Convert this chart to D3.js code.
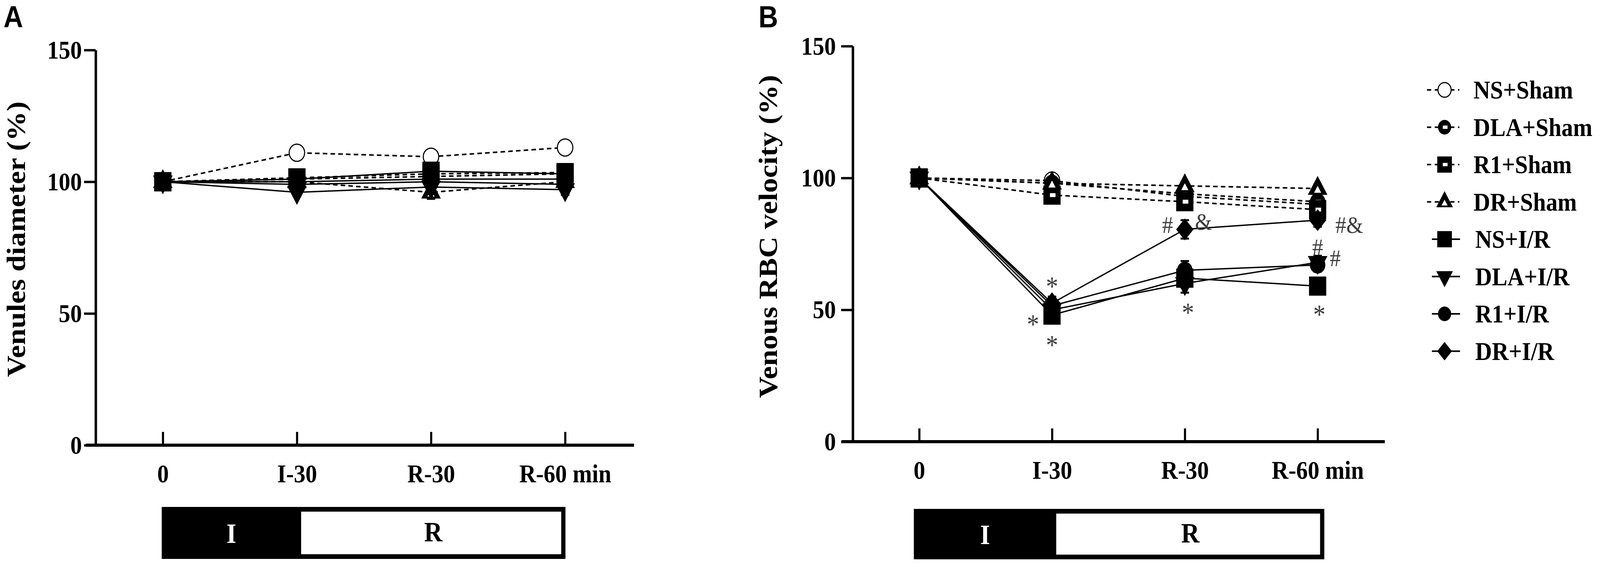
<!DOCTYPE html>
<html>
<head>
<meta charset="utf-8">
<script src="https://cdn.jsdelivr.net/npm/d3@7"></script>
<style>
  html, body { margin: 0; padding: 0; background: #fff; overflow: hidden; }
  #chart { width: 100vw; height: 100vh; }
  svg { display: block; }
</style>
</head>
<body>
<div id="chart"></div>
<script>
// ---- data ----
const timePoints = ["0", "I-30", "R-30", "R-60 min"];
const groupNames = ["NS+Sham", "DLA+Sham", "R1+Sham", "DR+Sham", "NS+I/R", "DLA+I/R", "R1+I/R", "DR+I/R"];
const yTickValues = [0, 50, 100, 150];

// A: venules diameter (%)
const diamNSSham  = [100, 111, 109.5, 113];
const diamDLASham = [100, 101, 102, 103];
const diamR1Sham  = [100, 101.5, 103, 103.5];
const diamDRSham  = [100, 100, 96, 100];
const diamNSIR    = [100, 101, 104, 103];
const diamDLAIR   = [100, 96, 98, 97];
const diamR1IR    = [100, 99, 100, 99];
const diamDRIR    = [100, 100, 101, 101];
const diamErr     = [0, 1.5, 2.5, 2];

// B: venous RBC velocity (%)
const velNSSham  = [100, 99, 93, 90];
const velDLASham = [100, 98, 94, 91];
const velR1Sham  = [100, 93.5, 91, 88];
const velDRSham  = [100, 98, 97, 96];
const velNSIR    = [100, 48, 62, 59];
const velDLAIR   = [100, 50, 60, 68];
const velR1IR    = [100, 51.5, 65, 67];
const velDRIR    = [100, 52.5, 80.5, 84];
const velErrSham = [0, 1, 1.5, 1.5];
const velErrIR   = [0, 2.5, 3.5, 2.5];

// significance marks in B (text, time point, value where the mark sits)
const velMarkText  = ["*", "*", "*", "*", "*", "#", "&", "#&", "#", "#"];
const velMarkTime  = ["I-30", "I-30", "I-30", "R-30", "R-60 min", "R-30", "R-30", "R-60 min", "R-60 min", "R-60 min"];
const velMarkValue = [60.3, 45.9, 38.1, 50.4, 49.7, 82.3, 83.4, 82.3, 73.8, 69.7];

// ---- styles / layout ----
const serif = "'Liberation Serif','Times New Roman',serif";
const sans = "'Liberation Sans',Arial,sans-serif";
const velMarkDx = [0, -54, 0, 9, 5, -49, 53, 90, 0, 50];

// wide diamond, d3.symbol custom type
const symbolWideDiamond = {
    draw(ctx, size) {
        const r = Math.sqrt(size / 2);
        ctx.moveTo(0, -r);
        ctx.lineTo(r * 0.88, 0);
        ctx.lineTo(0, r);
        ctx.lineTo(-r * 0.88, 0);
        ctx.closePath();
    }
};
const shapes = {
    circle: { type: d3.symbolCircle, size: 1520 },
    square: { type: d3.symbolSquare, size: 2400 },
    triangle: { type: d3.symbolTriangle, size: 1350 },
    diamond: { type: symbolWideDiamond, size: 1570 }
};
// marker style per group
const groupStyle = {
    "NS+Sham":  { shape: "circle", fill: "open", dashed: true },
    "DLA+Sham": { shape: "circle", fill: "bold", dashed: true },
    "R1+Sham":  { shape: "square", fill: "bold", dashed: true },
    "DR+Sham":  { shape: "triangle", fill: "bold", dashed: true },
    "NS+I/R":   { shape: "square", fill: "solid", dashed: false },
    "DLA+I/R":  { shape: "triangle", fill: "solid", dashed: false, flip: true },
    "R1+I/R":   { shape: "circle", fill: "solid", dashed: false },
    "DR+I/R":   { shape: "diamond", fill: "solid", dashed: false }
};

const W = 4550, H = 1443;
// viewBox so the whole figure always fits the window
const svg = d3.select("#chart").append("svg")
    .attr("width", "100%").attr("height", "100%")
    .attr("viewBox", `0 0 ${W} ${H}`)
    .attr("preserveAspectRatio", "none");
svg.append("rect").attr("width", W).attr("height", H).attr("fill", "#fff");

// 画一个标记
function drawMarker(g, style, cx, cy, k = 1) {
    const s = shapes[style.shape];
    const m = g.append("g").attr("transform", `translate(${cx},${cy})${style.flip ? " rotate(180)" : ""}`);
    const path = d3.symbol().type(s.type).size(s.size * k * k)();
    if (style.fill === "open") {
        m.append("path").attr("d", path).attr("fill", "#fff").attr("stroke", "#000").attr("stroke-width", 3);
        return;
    }
    m.append("path").attr("d", path).attr("fill", "#000");
    if (style.fill === "bold") {
        // small white hole in the thick-outlined open markers
        if (style.shape === "triangle") {
            m.append("path").attr("d", d3.symbol().type(d3.symbolTriangle).size(180 * k * k)())
                .attr("transform", `translate(0,${5 * k})`).attr("fill", "#fff");
        } else {
            m.append("rect").attr("x", -6 * k).attr("y", -5 * k).attr("width", 16 * k).attr("height", 10 * k).attr("fill", "#fff");
        }
    }
}

function drawPanel(cfg) {
    const x = d3.scalePoint().domain(timePoints).range([cfg.x0, cfg.x1]);
    const y = d3.scaleLinear().domain([0, 150]).range([cfg.yBottom, cfg.yTop]);
    const g = svg.append("g");

    // panel letter
    g.append("text").attr("x", cfg.letterX).attr("y", 70).text(cfg.letter)
        .attr("font-family", sans).attr("font-weight", "bold").attr("font-size", 77);

    // y axis
    const yAxis = g.append("g").attr("transform", `translate(${cfg.axisX},0)`)
        .call(d3.axisLeft(y).tickValues(yTickValues).tickSize(33).tickSizeOuter(0).tickPadding(cfg.yPad));
    yAxis.select(".domain").attr("stroke-width", 7);
    yAxis.selectAll(".tick line").attr("stroke-width", 6);
    yAxis.selectAll(".tick text").attr("font-family", serif).attr("font-weight", "bold")
        .attr("font-size", 66).attr("fill", "#000");

    // x axis: long base line + inward ticks
    g.append("line").attr("x1", cfg.xAxisStart).attr("x2", cfg.xAxisEnd)
        .attr("y1", y(0)).attr("y2", y(0)).attr("stroke", "#000").attr("stroke-width", 8);
    const xAxis = g.append("g").attr("transform", `translate(0,${y(0)})`)
        .call(d3.axisBottom(x).tickSizeInner(-34).tickSizeOuter(0).tickPadding(48));
    xAxis.select(".domain").remove();
    xAxis.selectAll(".tick line").attr("stroke-width", 6);
    xAxis.selectAll(".tick text").attr("font-family", serif).attr("font-weight", "bold")
        .attr("font-size", 66).attr("fill", "#000");

    // y label
    g.append("text").attr("transform", `translate(${cfg.labelX},${cfg.labelY}) rotate(-90)`)
        .attr("text-anchor", "middle").attr("font-family", serif).attr("font-weight", "bold")
        .attr("font-size", 76).text(cfg.yLabel);

    // lines
    cfg.series.forEach((s) => {
        const st = groupStyle[s.name];
        const line = d3.line().x((d, i) => x(timePoints[i])).y((d) => y(d));
        g.append("path").attr("d", line(s.values)).attr("fill", "none").attr("stroke", "#000")
            .attr("stroke-width", st.dashed ? 4 : 3.5)
            .attr("stroke-dasharray", st.dashed ? "13,9" : null);
    });
    // error bars + markers
    cfg.series.forEach((s) => {
        const st = groupStyle[s.name];
        s.values.forEach((v, i) => {
            const e = s.err[i];
            if (e > 0) {
                const cx = x(timePoints[i]);
                g.append("line").attr("x1", cx).attr("x2", cx).attr("y1", y(v - e)).attr("y2", y(v + e))
                    .attr("stroke", "#000").attr("stroke-width", 4);
                [v - e, v + e].forEach((ev) => {
                    g.append("line").attr("x1", cx - 12).attr("x2", cx + 12).attr("y1", y(ev)).attr("y2", y(ev))
                        .attr("stroke", "#000").attr("stroke-width", 5);
                });
            }
            drawMarker(g, st, x(timePoints[i]), y(v));
        });
    });

    // significance marks
    (cfg.marks || []).forEach((m) => {
        const star = m.text === "*";
        const fs = star ? 70 : 62;
        g.append("text").attr("x", x(m.time) + m.dx).attr("y", y(m.value))
            .attr("dy", star ? "0.47em" : "0.34em").attr("text-anchor", "middle")
            .attr("font-family", serif).attr("font-size", fs).attr("fill", "#3c3c3c").text(m.text);
    });

    // I / R phase bar under the axis
    const bx0 = x(timePoints[0]) - cfg.barPadL;
    const bx1 = x(timePoints[timePoints.length - 1]) + cfg.barPadR;
    const split = x("I-30") + 12;
    const [bt, bb] = cfg.barY;
    g.append("rect").attr("x", bx0 + 6).attr("y", bt + 6).attr("width", bx1 - bx0 - 12).attr("height", bb - bt - 12)
        .attr("fill", "#fff").attr("stroke", "#000").attr("stroke-width", 12);
    g.append("rect").attr("x", bx0).attr("y", bt).attr("width", split - bx0).attr("height", bb - bt).attr("fill", "#000");
    g.append("text").attr("x", (bx0 + split) / 2).attr("y", (bt + bb) / 2).attr("dy", "0.36em")
        .attr("text-anchor", "middle").attr("font-family", serif).attr("font-weight", "bold")
        .attr("font-size", 72).attr("fill", "#fff").text("I");
    g.append("text").attr("x", (split + bx1) / 2).attr("y", (bt + bb) / 2).attr("dy", "0.3em")
        .attr("text-anchor", "middle").attr("font-family", serif).attr("font-weight", "bold")
        .attr("font-size", 72).attr("fill", "#000").text("R");
}

const seriesA = [diamNSSham, diamDLASham, diamR1Sham, diamDRSham, diamNSIR, diamDLAIR, diamR1IR, diamDRIR]
    .map((values, i) => ({ name: groupNames[i], values, err: diamErr }));
const seriesB = [velNSSham, velDLASham, velR1Sham, velDRSham, velNSIR, velDLAIR, velR1IR, velDRIR]
    .map((values, i) => ({ name: groupNames[i], values, err: i < 4 ? velErrSham : velErrIR }));
const marksB = velMarkText.map((text, i) => ({ text, time: velMarkTime[i], value: velMarkValue[i], dx: velMarkDx[i] }));

drawPanel({
    letter: "A", letterX: 10,
    x0: 463, x1: 1607, yBottom: 1139, yTop: 128,
    axisX: 272, yPad: 6, xAxisStart: 244, xAxisEnd: 1803,
    labelX: 71, labelY: 612, yLabel: "Venules diameter (%)",
    barPadL: 3, barPadR: 1, barY: [1297, 1430],
    series: seriesA
});
drawPanel({
    letter: "B", letterX: 2157,
    x0: 2614, x1: 3747, yBottom: 1130, yTop: 118,
    axisX: 2425, yPad: 15, xAxisStart: 2393, xAxisEnd: 3938,
    labelX: 2210, labelY: 605, yLabel: "Venous RBC velocity (%)",
    barPadL: 15, barPadR: 19, barY: [1302, 1431],
    series: seriesB, marks: marksB
});

// legend (panel B)
const legend = svg.append("g");
groupNames.forEach((name, i) => {
    const st = groupStyle[name];
    const cy = 230 + i * 95.5;
    legend.append("line").attr("x1", st.dashed ? 4058 : 4072).attr("x2", st.dashed ? 4150 : 4152)
        .attr("y1", cy).attr("y2", cy).attr("stroke", "#000").attr("stroke-width", 4)
        .attr("stroke-dasharray", st.dashed ? "12,10" : null);
    drawMarker(legend, st, 4108, cy, 0.85);
    legend.append("text").attr("x", st.dashed ? 4190 : 4195).attr("y", cy).attr("dy", "0.34em")
        .attr("font-family", serif).attr("font-weight", "bold").attr("font-size", 66).text(name);
});
</script>
</body>
</html>
